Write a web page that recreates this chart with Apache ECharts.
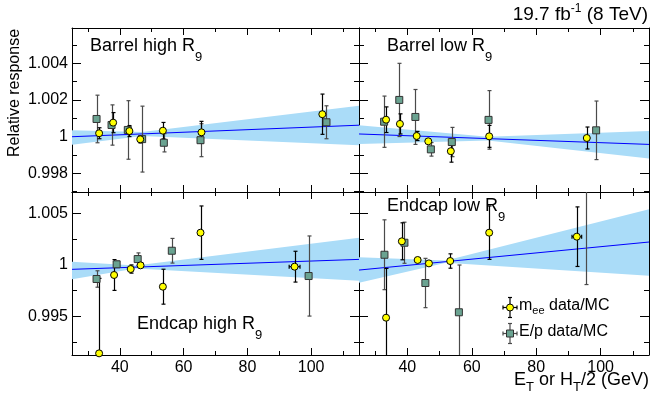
<!DOCTYPE html>
<html>
<head>
<meta charset="utf-8">
<title>Relative response</title>
<script src="https://cdn.jsdelivr.net/npm/echarts@6.0.0/dist/echarts.min.js"></script>
<style>
  html, body { margin: 0; padding: 0; background: #fff; }
  #chart { width: 664px; height: 397px; }
</style>
</head>
<body>
<div id="chart"></div>
<script>
// x axis: E_T or H_T/2 (GeV), same for every panel
const xRange = [25, 115];
const xMajor = [40, 60, 80, 100];
const xMinor = [30, 50, 70, 90, 110];

// y axes: barrel row, endcap row
const yTopRange = [0.99697, 1.00593];
const yTopMajor = [0.998, 1, 1.002, 1.004];
const yTopMinor = [0.997, 0.999, 1.001, 1.003, 1.005];
const yBotRange = [0.99124, 1.00711];
const yBotMajor = [0.995, 1, 1.005];
const yBotMinor = [0.9925, 0.9975, 1.0025];

// Barrel high R9
const bhMeeX = [33.5, 37.9, 43.0, 46.4, 53.5, 65.6, 103.5];
const bhMeeY = [1.00018, 1.00076, 1.0003, 0.99985, 1.00032, 1.00023, 1.00122];
const bhMeeErr = [0.0003, 0.00055, 0.0003, 0.0002, 0.00045, 0.0006, 0.0011];
const bhMeeXErr = [0, 0, 0, 0, 0, 0, 0];
const bhEpX = [32.7, 37.4, 42.5, 47.0, 53.8, 65.3, 104.8];
const bhEpY = [1.00096, 1.00063, 1.00036, 0.99986, 0.99966, 0.9998, 1.00078];
const bhEpErr = [0.0013, 0.0011, 0.0016, 0.0018, 0.0005, 0.0009, 0.0009];
const bhFitY = [0.99999, 1.00062];
const bhBandX = [25, 47, 115];
const bhBandLo = [0.99955, 1.00003, 0.99953];
const bhBandHi = [1.00035, 1.00025, 1.00168];

// Barrel low R9
const blMeeX = [33.4, 37.7, 42.9, 46.5, 53.5, 65.4, 95.7];
const blMeeY = [1.00092, 1.00069, 1.00003, 0.99974, 0.9992, 1.00001, 0.99992];
const blMeeErr = [0.0007, 0.00055, 0.00025, 0.0001, 0.0006, 0.0006, 0.0006];
const blMeeXErr = [0, 0, 0, 0, 0, 0, 0];
const blEpX = [32.8, 37.5, 42.5, 47.3, 53.8, 65.2, 98.6];
const blEpY = [1.00081, 1.002, 1.00107, 0.9993, 0.9997, 1.00091, 1.00034];
const blEpErr = [0.0014, 0.002, 0.0015, 0.00037, 0.0008, 0.0016, 0.0016];
const blFitY = [1.00014, 0.99957];
const blBandX = [25, 65, 115];
const blBandLo = [0.99959, 0.99979, 0.9988];
const blBandHi = [1.00062, 0.99999, 1.0003];

// Endcap high R9
const ehMeeX = [33.5, 38.2, 43.4, 46.5, 53.5, 65.3, 94.8];
const ehMeeY = [0.9914, 0.99903, 0.99961, 0.99997, 0.99789, 1.00315, 0.99984];
const ehMeeErr = [0.0073, 0.0015, 0.0004, 0.0002, 0.0017, 0.0026, 0.0015];
const ehMeeXErr = [0, 0, 0, 0, 0, 0, 1.7];
const ehEpX = [32.7, 39.0, 45.6, 56.3, 99.2];
const ehEpY = [0.99864, 1.00007, 1.00058, 1.00139, 0.99893];
const ehEpErr = [0.0008, 0.0003, 0.0006, 0.0012, 0.0039];
const ehFitY = [0.99958, 1.00055];
const ehBandX = [25, 45, 115];
const ehBandLo = [0.99861, 0.99965, 0.99847];
const ehBandHi = [1.00032, 0.99995, 1.00266];

// Endcap low R9
const elMeeX = [33.4, 38.3, 43.2, 46.7, 53.3, 65.4, 92.6];
const elMeeY = [0.99487, 1.00231, 1.00049, 1.00016, 1.00039, 1.00315, 1.00276];
const elMeeErr = [0.0048, 0.0018, 0.0002, 0.0001, 0.0007, 0.0026, 0.0029];
const elMeeXErr = [0, 0, 0, 0, 0, 0, 1.5];
const elEpX = [32.9, 39.1, 45.6, 56.0, 95.4];
const elEpY = [1.001, 1.00217, 0.99825, 0.9954, 1.0078];
const elEpErr = [0.0034, 0.002, 0.0024, 0.0046, 0.0097];
const elFitY = [0.99951, 1.00224];
const elBandX = [25, 52, 115];
const elBandLo = [0.99828, 1.00023, 0.99896];
const elBandHi = [1.00075, 1.00043, 1.00542];

const FONT = '"Liberation Sans", Arial, Helvetica, sans-serif';
const MEE_FILL = '#ffff00';
const EP_FILL = '#6aa391';
const EP_BAR = '#4a4a4a';
const BAND = '#aadcf8';
const FIT = '#0000ff';

const panels = [
  { box: { left: 72, top: 28, width: 287, height: 164 }, row: 0, col: 0,
    meeX: bhMeeX, meeY: bhMeeY, meeErr: bhMeeErr, meeXErr: bhMeeXErr,
    epX: bhEpX, epY: bhEpY, epErr: bhEpErr, fitY: bhFitY, bandX: bhBandX, bandLo: bhBandLo, bandHi: bhBandHi },
  { box: { left: 359, top: 28, width: 290, height: 164 }, row: 0, col: 1,
    meeX: blMeeX, meeY: blMeeY, meeErr: blMeeErr, meeXErr: blMeeXErr,
    epX: blEpX, epY: blEpY, epErr: blEpErr, fitY: blFitY, bandX: blBandX, bandLo: blBandLo, bandHi: blBandHi },
  { box: { left: 72, top: 192, width: 287, height: 163 }, row: 1, col: 0,
    meeX: ehMeeX, meeY: ehMeeY, meeErr: ehMeeErr, meeXErr: ehMeeXErr,
    epX: ehEpX, epY: ehEpY, epErr: ehEpErr, fitY: ehFitY, bandX: ehBandX, bandLo: ehBandLo, bandHi: ehBandHi },
  { box: { left: 359, top: 192, width: 290, height: 163 }, row: 1, col: 1,
    meeX: elMeeX, meeY: elMeeY, meeErr: elMeeErr, meeXErr: elMeeXErr,
    epX: elEpX, epY: elEpY, epErr: elEpErr, fitY: elFitY, bandX: elBandX, bandLo: elBandLo, bandHi: elBandHi }
];

function yFmt(v) {
  return Math.abs(v - 1) < 1e-9 ? '1' : v.toFixed(3);
}

function xAxisDef(gi, pos, ticks, len, line, labels) {
  return {
    type: 'value', gridIndex: gi, position: pos, min: xRange[0], max: xRange[1],
    axisLine: { show: line, onZero: false, lineStyle: { color: '#000', width: 1 } },
    axisTick: { show: true, inside: true, length: len, customValues: ticks, lineStyle: { color: '#000', width: 1 } },
    axisLabel: { show: labels, customValues: xMajor, margin: 5, color: '#000', fontSize: 16, fontFamily: FONT },
    splitLine: { show: false }
  };
}

function yAxisDef(gi, pos, range, ticks, labelVals, len, line, labels) {
  return {
    type: 'value', gridIndex: gi, position: pos, min: range[0], max: range[1],
    axisLine: { show: line, onZero: false, lineStyle: { color: '#000', width: 1 } },
    axisTick: { show: true, inside: true, length: len, customValues: ticks, lineStyle: { color: '#000', width: 1 } },
    axisLabel: { show: labels, customValues: labelVals, formatter: yFmt, margin: 4, color: '#000', fontSize: 16, fontFamily: FONT },
    splitLine: { show: false }
  };
}

function clampY(v, cs) {
  return Math.min(Math.max(v, cs.y), cs.y + cs.height);
}

function errorBars(gi, xs, ys, es, xes, color) {
  return {
    type: 'custom', xAxisIndex: gi * 4, yAxisIndex: gi * 4, silent: true, z: 3,
    data: xs.map((x, i) => [x, ys[i], es[i], xes ? xes[i] : 0]),
    renderItem(params, api) {
      const cs = params.coordSys;
      const x = api.value(0), y = api.value(1), e = api.value(2), xe = api.value(3);
      const p = api.coord([x, y]);
      const hiRaw = api.coord([x, y + e])[1], loRaw = api.coord([x, y - e])[1];
      const hi = clampY(hiRaw, cs), lo = clampY(loRaw, cs);
      const st = { stroke: color, lineWidth: 1.2 };
      const px = Math.round(p[0]) + 0.5;
      const kids = [{ type: 'line', shape: { x1: px, y1: hi, x2: px, y2: lo }, style: st }];
      if (hiRaw >= cs.y) kids.push({ type: 'line', shape: { x1: px - 2, y1: hi, x2: px + 2, y2: hi }, style: st });
      if (loRaw <= cs.y + cs.height) kids.push({ type: 'line', shape: { x1: px - 2, y1: lo, x2: px + 2, y2: lo }, style: st });
      if (xe > 0) {
        const l = api.coord([x - xe, y])[0], r = api.coord([x + xe, y])[0];
        kids.push({ type: 'line', shape: { x1: l, y1: p[1], x2: r, y2: p[1] }, style: st });
        kids.push({ type: 'line', shape: { x1: l, y1: p[1] - 2, x2: l, y2: p[1] + 2 }, style: st });
        kids.push({ type: 'line', shape: { x1: r, y1: p[1] - 2, x2: r, y2: p[1] + 2 }, style: st });
      }
      return { type: 'group', children: kids };
    }
  };
}

function band(gi, bx, lo, hi) {
  return {
    type: 'custom', xAxisIndex: gi * 4, yAxisIndex: gi * 4, silent: true, z: 1,
    data: [[bx[0], lo[0]]],
    renderItem(params, api) {
      const pts = [];
      bx.forEach((x, i) => pts.push(api.coord([x, hi[i]])));
      for (let i = bx.length - 1; i >= 0; i--) pts.push(api.coord([bx[i], lo[i]]));
      return { type: 'polygon', shape: { points: pts }, style: { fill: BAND } };
    }
  };
}

const grids = [], xAxes = [], yAxes = [], series = [];
panels.forEach((p, gi) => {
  grids.push(Object.assign({ containLabel: false }, p.box));
  const yr = p.row === 0 ? yTopRange : yBotRange;
  const yMaj = p.row === 0 ? yTopMajor : yBotMajor;
  const yMin = p.row === 0 ? yTopMinor : yBotMinor;
  xAxes.push(xAxisDef(gi, 'bottom', xMajor, 7, true, p.row === 1));
  xAxes.push(xAxisDef(gi, 'top', xMajor, 7, true, false));
  xAxes.push(xAxisDef(gi, 'bottom', xMinor, 4, false, false));
  xAxes.push(xAxisDef(gi, 'top', xMinor, 4, false, false));
  yAxes.push(yAxisDef(gi, 'left', yr, yMaj, yMaj, 9, true, p.col === 0));
  yAxes.push(yAxisDef(gi, 'right', yr, yMaj, yMaj, 9, true, false));
  yAxes.push(yAxisDef(gi, 'left', yr, yMin, yMaj, 5, false, false));
  yAxes.push(yAxisDef(gi, 'right', yr, yMin, yMaj, 5, false, false));

  series.push(band(gi, p.bandX, p.bandLo, p.bandHi));
  series.push({
    type: 'line', xAxisIndex: gi * 4, yAxisIndex: gi * 4, z: 2, silent: true,
    data: [[xRange[0], p.fitY[0]], [xRange[1], p.fitY[1]]],
    symbol: 'none', lineStyle: { color: FIT, width: 1 }
  });
  series.push(errorBars(gi, p.epX, p.epY, p.epErr, null, EP_BAR));
  series.push({
    type: 'scatter', xAxisIndex: gi * 4, yAxisIndex: gi * 4, z: 4, silent: true, clip: true,
    data: p.epX.map((x, i) => [x, p.epY[i]]),
    symbol: 'rect', symbolSize: 7,
    itemStyle: { color: EP_FILL, borderColor: '#333', borderWidth: 1, opacity: 1 }
  });
  series.push(errorBars(gi, p.meeX, p.meeY, p.meeErr, p.meeXErr, '#000'));
  series.push({
    type: 'scatter', xAxisIndex: gi * 4, yAxisIndex: gi * 4, z: 5, silent: true, clip: true,
    data: p.meeX.map((x, i) => [x, p.meeY[i]]),
    symbol: 'circle', symbolSize: 7,
    itemStyle: { color: MEE_FILL, borderColor: '#000', borderWidth: 1, opacity: 1 }
  });
});

// text with sub/superscripts, widths measured with the same font
const mctx = document.createElement('canvas').getContext('2d');
function textW(s, size) {
  mctx.font = size + 'px ' + FONT;
  return mctx.measureText(s).width;
}
// parts: [text, size, dy]; y is the vertical middle of the main text
function richText(x, y, parts, alignRight) {
  let total = 0;
  parts.forEach(pt => { total += textW(pt[0], pt[1]); });
  let cx = alignRight ? x - total : x;
  const out = [];
  parts.forEach(pt => {
    out.push({
      type: 'text', x: cx, y: y + (pt[2] || 0), silent: true, z: 10,
      style: { text: pt[0], fontSize: pt[1], fontFamily: FONT, fill: '#000', align: 'left', verticalAlign: 'middle' }
    });
    cx += textW(pt[0], pt[1]);
  });
  return out;
}

function legendEntry(cx, cy, fill, barColor, shape) {
  const st = { stroke: barColor, lineWidth: 1.2 };
  const els = [
    { type: 'line', shape: { x1: cx, y1: cy - 10, x2: cx, y2: cy + 10 }, style: st },
    { type: 'line', shape: { x1: cx - 2, y1: cy - 10, x2: cx + 2, y2: cy - 10 }, style: st },
    { type: 'line', shape: { x1: cx - 2, y1: cy + 10, x2: cx + 2, y2: cy + 10 }, style: st },
    { type: 'line', shape: { x1: cx - 7, y1: cy, x2: cx + 7, y2: cy }, style: st },
    { type: 'line', shape: { x1: cx - 7, y1: cy - 2, x2: cx - 7, y2: cy + 2 }, style: st },
    { type: 'line', shape: { x1: cx + 7, y1: cy - 2, x2: cx + 7, y2: cy + 2 }, style: st }
  ];
  if (shape === 'circle') {
    els.push({ type: 'circle', shape: { cx: cx, cy: cy, r: 3.5 }, style: { fill: fill, stroke: '#000', lineWidth: 1 } });
  } else {
    els.push({ type: 'rect', shape: { x: cx - 3.5, y: cy - 3.5, width: 7, height: 7 }, style: { fill: fill, stroke: '#333', lineWidth: 1 } });
  }
  els.forEach(e => { e.z = 10; e.silent = true; });
  return els;
}

let graphics = [];
graphics = graphics.concat(
  richText(90, 46.5, [['Barrel high R', 18, 0], ['9', 13, 11]]),
  richText(387, 46.5, [['Barrel low R', 18, 0], ['9', 13, 11]]),
  richText(137, 324, [['Endcap high R', 18, 0], ['9', 13, 11]]),
  richText(387, 206, [['Endcap low R', 18, 0], ['9', 13, 11]]),
  richText(648, 15, [['19.7 fb', 19, 0], ['-1', 12, -6], [' (8 TeV)', 19, 0]], true),
  richText(649, 380, [['E', 18, 0], ['T', 13, 7], [' or H', 18, 0], ['T', 13, 7], ['/2 (GeV)', 18, 0]], true),
  legendEntry(510, 307.5, MEE_FILL, '#000', 'circle'),
  richText(519, 306, [['m', 16, 0], ['ee', 11, 5], [' data/MC', 16, 0]]),
  legendEntry(510, 333.5, EP_FILL, EP_BAR, 'rect'),
  richText(519, 332, [['E/p data/MC', 16, 0]])
);
// y axis title, reading upward from y = 157 to the top of the frame
graphics.push({
  type: 'text', x: 15, y: 157, rotation: Math.PI / 2, silent: true, z: 10,
  style: { text: 'Relative response', fontSize: 16, fontFamily: FONT, fill: '#000', align: 'left', verticalAlign: 'middle' }
});

const chart = echarts.init(document.getElementById('chart'), null, { renderer: 'canvas' });
chart.setOption({
  animation: false,
  backgroundColor: '#fff',
  grid: grids,
  xAxis: xAxes,
  yAxis: yAxes,
  series: series,
  graphic: graphics
});
</script>
</body>
</html>
